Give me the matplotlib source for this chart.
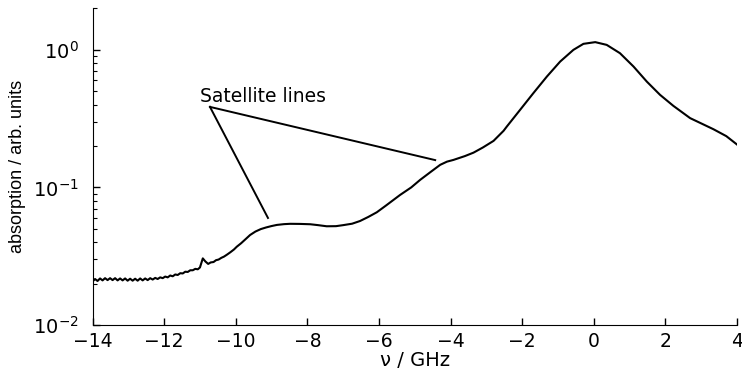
import numpy as np
import matplotlib
matplotlib.use("Agg")
import matplotlib.pyplot as plt

plt.rcParams['font.family'] = ['DejaVu Sans']

# absorption spectrum, frequency detuning in GHz
nu = [-14.00, -13.93, -13.86, -13.79, -13.72, -13.65, -13.58, -13.51, -13.44, -13.37,
      -13.30, -13.23, -13.16, -13.09, -13.02, -12.95, -12.88, -12.81, -12.74, -12.67,
      -12.60, -12.53, -12.46, -12.39, -12.32, -12.25, -12.18, -12.11, -12.04, -11.97,
      -11.90, -11.83, -11.76, -11.69, -11.62, -11.55, -11.48, -11.41, -11.34, -11.27,
      -11.20, -11.13, -11.06, -11.00, -10.92, -10.85, -10.77, -10.70, -10.62, -10.55,
      -10.48, -10.40, -10.33, -10.25, -10.15, -10.05, -9.97, -9.85, -9.72, -9.60,
      -9.45, -9.30, -9.15, -9.00, -8.85, -8.65, -8.48, -8.20, -7.92, -7.70,
      -7.46, -7.20, -7.00, -6.75, -6.53, -6.30, -6.06, -5.80, -5.41, -5.10,
      -4.85, -4.55, -4.29, -4.10, -3.92, -3.60, -3.36, -3.10, -2.80, -2.52,
      -2.43, -2.06, -1.69, -1.31, -0.94, -0.57, -0.29, 0.04, 0.36, 0.73,
      1.11, 1.48, 1.85, 2.22, 2.69, 3.00, 3.34, 3.70, 4.00]
absorption = [0.0207, 0.0216, 0.0209, 0.0218, 0.0211, 0.0219, 0.0212, 0.0219, 0.0212, 0.0219,
              0.0211, 0.0218, 0.0211, 0.0218, 0.0210, 0.0217, 0.0210, 0.0217, 0.0210, 0.0218,
              0.0211, 0.0218, 0.0212, 0.0219, 0.0214, 0.0220, 0.0216, 0.0222, 0.0219, 0.0225,
              0.0222, 0.0229, 0.0226, 0.0233, 0.0231, 0.0238, 0.0237, 0.0244, 0.0243, 0.0250,
              0.0250, 0.0256, 0.0254, 0.0262, 0.0305, 0.0290, 0.0278, 0.0285, 0.0287, 0.0296,
              0.0299, 0.0308, 0.0314, 0.0324, 0.0338, 0.0354, 0.0371, 0.0393, 0.0422, 0.0451,
              0.0478, 0.0498, 0.0512, 0.0524, 0.0534, 0.0541, 0.0544, 0.0543, 0.0540, 0.0532,
              0.0522, 0.0523, 0.0532, 0.0545, 0.0570, 0.0610, 0.0660, 0.0740, 0.0882, 0.1000,
              0.1135, 0.1300, 0.1460, 0.1540, 0.1585, 0.1690, 0.1790, 0.1950, 0.2180, 0.2580,
              0.2770, 0.3660, 0.4840, 0.6400, 0.8220, 1.0000, 1.1060, 1.1380, 1.0870, 0.9460,
              0.7560, 0.5880, 0.4710, 0.3920, 0.3190, 0.2920, 0.2650, 0.2360, 0.2050]

# annotation: label anchor and the two satellite features it points to
label_xy = (-10.72, 0.385)
satellite_xy = [(-9.1, 0.060), (-4.43, 0.158)]

fig = plt.figure(figsize=(7.42, 3.74), dpi=100)
ax = fig.add_axes([0.1247, 0.131, 0.8686, 0.848])

ax.plot(nu, absorption, color='black', lw=1.5)

for sx, sy in satellite_xy:
    ax.plot([label_xy[0], sx], [label_xy[1], sy], color='black', lw=1.4)
ax.text(-11.0, 0.418, 'Satellite lines', fontsize=13.5, ha='left', va='baseline')

ax.set_yscale('log')
ax.set_xlim(-14, 4)
ax.set_ylim(0.01, 2.02)
ax.set_xticks(np.arange(-14, 5, 2))

ax.spines['top'].set_visible(False)
ax.spines['right'].set_visible(False)
ax.tick_params(axis='both', which='major', direction='in', length=5, width=1)
ax.tick_params(axis='x', which='major', pad=5, labelsize=13.5)
ax.tick_params(axis='y', which='major', pad=10, labelsize=14)
ax.tick_params(axis='y', which='minor', direction='in', length=3, width=0.8)

ax.set_xlabel('ν / GHz', fontsize=14, labelpad=0)
ax.set_ylabel('absorption / arb. units', fontsize=13, labelpad=5,
              family=['Liberation Sans Narrow', 'Liberation Sans', 'DejaVu Sans'])

fig.savefig('out.png', dpi=100)
